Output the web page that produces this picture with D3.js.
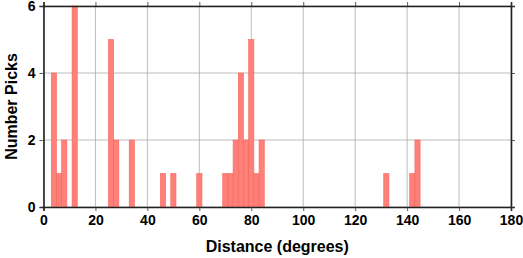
<!DOCTYPE html>
<html>
<head>
<meta charset="utf-8">
<script src="https://d3js.org/d3.v7.min.js"></script>
<style>
  body { margin: 0; background: #fff; }
  text { font-family: "Liberation Sans", Arial, sans-serif; font-weight: bold; }
</style>
</head>
<body>
<script>
// bin centres (degrees) and pick counts, bin width 2
var binCenters = [4, 6, 8, 12, 26, 28, 34, 46, 50, 60, 70, 72, 74, 76, 78, 80, 82, 84, 132, 142, 144];
var counts     = [4, 1, 2, 6,  5,  2,  2,  1,  1,  1,  1,  1,  2,  4,  2,  5,  1,  2,  1,   1,   2];
var xTicks = [0, 20, 40, 60, 80, 100, 120, 140, 160, 180];
var yTicks = [0, 2, 4, 6];
var binWidth = 2;

var data = binCenters.map(function(c, i) { return {c: c, n: counts[i]}; });

var margin = {top: 6, right: 12, bottom: 51, left: 43.5},
    width = 523 - margin.left - margin.right,
    height = 258 - margin.top - margin.bottom;

var svg = d3.select("body").append("svg")
    .attr("width", 523)
    .attr("height", 258);

var g = svg.append("g")
    .attr("transform", "translate(" + margin.left + "," + margin.top + ")");

var x = d3.scaleLinear().domain([0, 180]).range([0, width]);
var y = d3.scaleLinear().domain([0, 6]).range([height, 0]);

// grid
g.selectAll(".vgrid").data(xTicks).enter().append("line")
    .attr("x1", function(d) { return x(d); }).attr("x2", function(d) { return x(d); })
    .attr("y1", 0).attr("y2", height)
    .attr("stroke", "#a0a0a0").attr("stroke-width", 0.7);
g.selectAll(".hgrid").data(yTicks).enter().append("line")
    .attr("y1", function(d) { return y(d); }).attr("y2", function(d) { return y(d); })
    .attr("x1", 0).attr("x2", width)
    .attr("stroke", "#a0a0a0").attr("stroke-width", 0.7);

// bars
g.selectAll(".bar").data(data).enter().append("rect")
    .attr("class", "bar")
    .attr("x", function(d) { return x(d.c - binWidth / 2); })
    .attr("width", function(d) { return x(d.c + binWidth / 2) - x(d.c - binWidth / 2); })
    .attr("y", function(d) { return y(d.n); })
    .attr("height", function(d) { return height - y(d.n); })
    .attr("fill", "#ff8078")
    .attr("stroke", "#f4665e")
    .attr("stroke-width", 0.6);

// axes
g.append("g")
    .attr("transform", "translate(0," + height + ")")
    .call(d3.axisBottom(x).tickValues(xTicks).tickSize(4).tickPadding(4));
g.append("g")
    .call(d3.axisTop(x).tickValues(xTicks).tickSize(4).tickFormat(""));
g.append("g")
    .call(d3.axisLeft(y).tickValues(yTicks).tickSize(4).tickPadding(4).tickFormat(d3.format("d")));
g.append("g")
    .attr("transform", "translate(" + width + ",0)")
    .call(d3.axisRight(y).tickValues(yTicks).tickSize(4).tickFormat(""));

g.selectAll(".domain").attr("stroke", "#222").attr("stroke-width", 1.6);
g.selectAll(".tick line").attr("stroke", "#333").attr("stroke-width", 0.8);
g.selectAll(".tick text").style("font-size", "14px").attr("fill", "#000");

// labels
svg.append("text")
    .attr("x", margin.left + width / 2)
    .attr("y", 252)
    .attr("text-anchor", "middle")
    .style("font-size", "16px")
    .text("Distance (degrees)");

svg.append("text")
    .attr("transform", "translate(17," + (margin.top + height / 2) + ") rotate(-90)")
    .attr("text-anchor", "middle")
    .style("font-size", "16px")
    .text("Number Picks");
</script>
</body>
</html>
